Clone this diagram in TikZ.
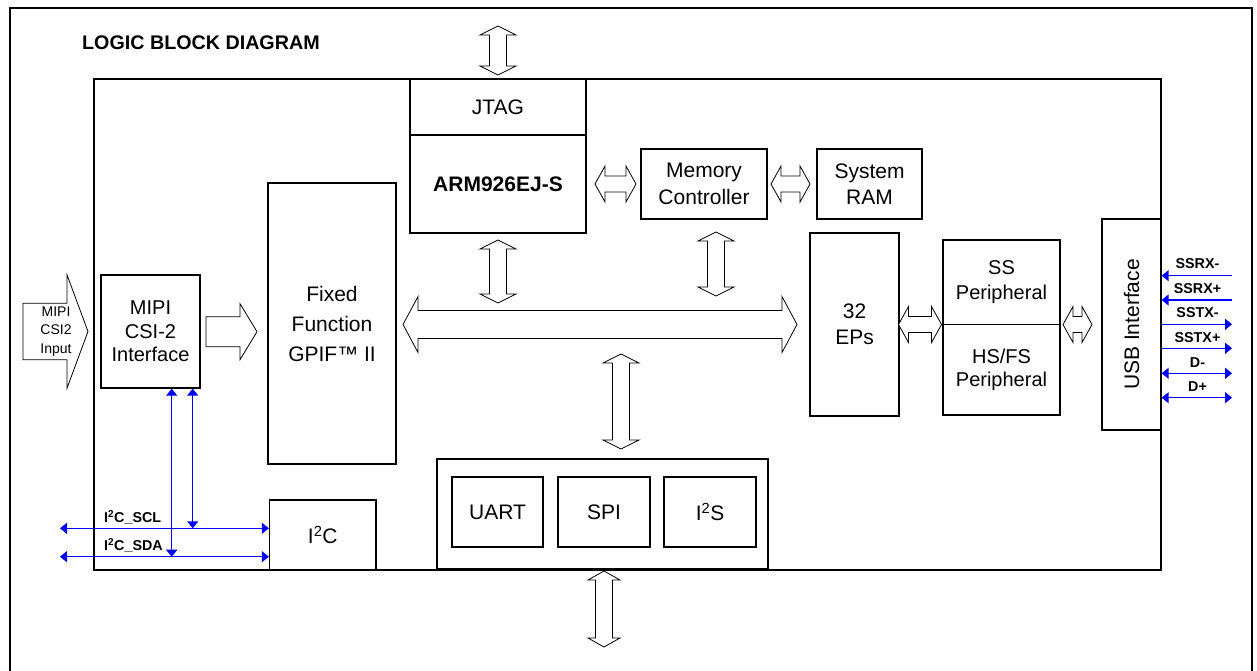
\documentclass[tikz,border=0pt]{standalone}
\usepackage{fontspec}
\setmainfont{Liberation Sans}
\usetikzlibrary{arrows.meta}
\tikzset{
  box/.style={draw, line width=1.3pt, inner sep=0pt, align=center, font=\fontsize{21}{25.5}\selectfont},
  hollow/.style={draw, line width=0.8pt, fill=white, line join=miter},
  sig/.style={draw=blue, line width=1.5pt, >={Triangle[length=7pt,width=11pt]}, color=blue},
  siglabel/.style={font=\bfseries\fontsize{14.3}{16}\selectfont, inner sep=0pt},
}
% box by corners: [opts]{name}{x1}{y1}{x2}{y2}{text}
\newcommand\BoxN[7][]{\node[box, minimum width={#5-#3}, minimum height={#6-#4}, #1] (#2) at ({(#3+#5)/2},{(#4+#6)/2}) {#7};}
% horizontal double hollow arrow: x1 x2 y shafthalf headhalf headlen
\newcommand\DArrH[6]{\draw[hollow] (#1,#3) -- ({#1+#6},{#3-#5}) -- ({#1+#6},{#3-#4}) -- ({#2-#6},{#3-#4}) -- ({#2-#6},{#3-#5}) -- (#2,#3) -- ({#2-#6},{#3+#5}) -- ({#2-#6},{#3+#4}) -- ({#1+#6},{#3+#4}) -- ({#1+#6},{#3+#5}) -- cycle;}
% vertical double hollow arrow: y1 y2 x shafthalf headhalf headlen
\newcommand\DArrV[6]{\draw[hollow] (#3,#1) -- ({#3-#5},{#1+#6}) -- ({#3-#4},{#1+#6}) -- ({#3-#4},{#2-#6}) -- ({#3-#5},{#2-#6}) -- (#3,#2) -- ({#3+#5},{#2-#6}) -- ({#3+#4},{#2-#6}) -- ({#3+#4},{#1+#6}) -- ({#3+#5},{#1+#6}) -- cycle;}
% single hollow arrow pointing right: x1 x2 y shafthalf headhalf headlen
\newcommand\SArrH[6]{\draw[hollow] (#1,{#3-#4}) -- ({#2-#6},{#3-#4}) -- ({#2-#6},{#3-#5}) -- (#2,#3) -- ({#2-#6},{#3+#5}) -- ({#2-#6},{#3+#4}) -- (#1,{#3+#4}) -- cycle;}
\begin{document}
\begin{tikzpicture}[x=1pt,y=-1pt]
\useasboundingbox (0,0) rectangle (1257,670);
\fill[white] (0,0) rectangle (1257,670);
% outer frame
\draw[line width=1.7pt] (10,675) -- (10,8) -- (1252,8) -- (1252,675);
\node[anchor=west, inner sep=0pt, font=\bfseries\fontsize{19.7}{22}\selectfont] (title) at (82,43) {LOGIC BLOCK DIAGRAM};
% chip outline
\BoxN{chip}{94}{79}{1161}{570}{}
% blocks
\BoxN{jtag}{410}{79}{586}{135}{JTAG}
\BoxN[font=\bfseries\fontsize{21}{25}\selectfont]{arm}{410}{135}{586}{233}{ARM926EJ-S}
\BoxN[font=\fontsize{21}{26.5}\selectfont]{memc}{641}{149}{767}{219}{Memory\\Controller}
\BoxN[font=\fontsize{21}{26.5}\selectfont]{ram}{817}{149}{922}{219}{System\\RAM}
\BoxN[font=\fontsize{21}{30}\selectfont]{gpif}{268}{183}{396}{464}{Fixed\\Function\\GPIF™ II}
\BoxN[font=\fontsize{20}{23.3}\selectfont]{mipi}{101}{275}{200}{388}{MIPI\\CSI-2\\Interface}
\BoxN[font=\fontsize{21}{26.5}\selectfont]{eps}{810}{233}{899}{416}{32\\EPs}
\BoxN[font=\fontsize{20}{25}\selectfont]{ss}{943}{240}{1060}{324.5}{SS\\Peripheral}
\BoxN[font=\fontsize{20}{23.5}\selectfont]{hs}{943}{324.5}{1060}{415}{HS/FS\\Peripheral}
\BoxN{usb}{1102}{219}{1161}{430}{}
\node[rotate=90, inner sep=0pt, font=\fontsize{21}{25}\selectfont] (usbtxt) at (usb.center) {USB Interface};
\BoxN{periph}{437}{459}{768}{569}{}
\BoxN{uart}{452}{477}{543}{547}{UART}
\BoxN{spi}{558}{477}{650}{547}{SPI}
\BoxN{iis}{664}{477}{756}{547}{I\textsuperscript{2}S}
\BoxN{iic}{269.5}{500}{376}{570}{I\textsuperscript{2}C}
% hollow arrows
\DArrV{26}{75}{498}{8.5}{18}{9}
\DArrV{240}{303}{498}{8.5}{18}{9}
\DArrV{232}{296}{716}{8.5}{18}{9}
\DArrV{354}{449}{621}{8.5}{18}{9}
\DArrV{571}{647}{604}{8.5}{16}{9}
\DArrH{403}{797}{324.5}{14}{28}{15}
\DArrH{595}{636}{184}{8}{18}{10}
\DArrH{771}{810}{184}{8}{18}{10}
\DArrH{898.5}{941.5}{324.5}{8}{18}{10}
\DArrH{1063}{1092}{324.5}{8}{18}{10}
\SArrH{206}{257}{331.7}{15}{28}{17}
\SArrH{23}{88}{331.5}{28.3}{56.7}{21}
\node[align=center, inner sep=0pt, font=\fontsize{14}{18.5}\selectfont] (mipiin) at (56,331.5) {MIPI\\CSI2\\Input};
% I2C signals
\coordinate (scl) at (60,528.3);
\coordinate (sda) at (60,556.7);
\coordinate (va) at (171.7,0);
\coordinate (vb) at (192.7,0);
\draw[sig,<->] (scl) -- (iic.west |- scl);
\draw[sig,<->] (sda) -- (iic.west |- sda);
\draw[sig,<->] (mipi.south -| va) -- (va |- sda);
\draw[sig,<->] (mipi.south -| vb) -- (vb |- scl);
\node[siglabel, anchor=west] (scllbl) at (104,517.5) {I\textsuperscript{2}C\_SCL};
\node[siglabel, anchor=west] (sdalbl) at (104,545.5) {I\textsuperscript{2}C\_SDA};
% USB signals
\coordinate (rxm) at (1232,275.7);
\coordinate (rxp) at (1232,300);
\coordinate (txm) at (1232,324.3);
\coordinate (txp) at (1232,348.3);
\coordinate (dm) at (1232,373.3);
\coordinate (dp) at (1232,397.7);
\draw[sig,->] (rxm) -- (usb.east |- rxm);
\draw[sig,->] (rxp) -- (usb.east |- rxp);
\draw[sig,->] (usb.east |- txm) -- (txm);
\draw[sig,->] (usb.east |- txp) -- (txp);
\draw[sig,<->] (usb.east |- dm) -- (dm);
\draw[sig,<->] (usb.east |- dp) -- (dp);
\node[siglabel] (lrxm) at (1197.5,263.5) {SSRX-};
\node[siglabel] (lrxp) at (1197.5,289) {SSRX+};
\node[siglabel] (ltxm) at (1197.5,313) {SSTX-};
\node[siglabel] (ltxp) at (1197.5,337.5) {SSTX+};
\node[siglabel] (ldm) at (1197.5,363) {D-};
\node[siglabel] (ldp) at (1197.5,387) {D+};
\end{tikzpicture}
\end{document}
